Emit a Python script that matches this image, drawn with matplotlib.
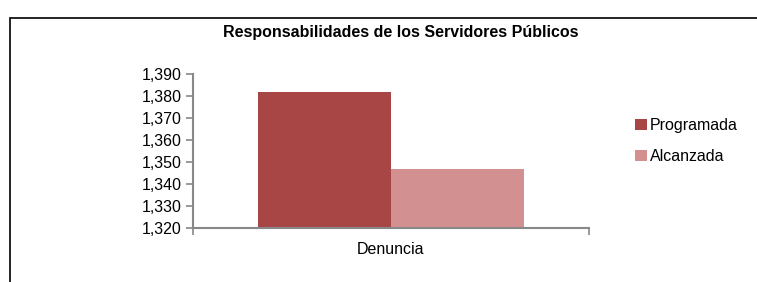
import matplotlib
matplotlib.use("Agg")
import matplotlib.pyplot as plt
from matplotlib.patches import Rectangle
from matplotlib.ticker import FuncFormatter, FixedLocator

categories = ["Denuncia"]
series_names = ["Programada", "Alcanzada"]
programada = [1382]
alcanzada = [1347]
colors = ["#A84646", "#D39090"]

plt.rcParams['font.family'] = ['Liberation Sans', 'DejaVu Sans']

W, H = 757, 282
fig = plt.figure(figsize=(W/100, H/100), dpi=100)

# outer frame
fig.patches.append(Rectangle((10/W, 0 - 0.1), 1.0, (H-18)/H + 0.1, transform=fig.transFigure,
                             fill=False, edgecolor="black", linewidth=1.2))

ax = fig.add_axes([193/W, 1 - 228/H, (589-193)/W, (228-74)/H])
bw = 0.335
x = range(len(categories))
ax.bar([i - bw/2 for i in x], programada, width=bw, color=colors[0], label=series_names[0])
ax.bar([i + bw/2 for i in x], alcanzada, width=bw, color=colors[1], label=series_names[1])

ax.set_ylim(1320, 1390)
ax.set_xlim(-0.5, 0.5)
ax.yaxis.set_major_locator(FixedLocator(range(1320, 1391, 10)))
ax.yaxis.set_major_formatter(FuncFormatter(lambda v, p: f"{int(v):,}"))
ax.xaxis.set_major_locator(FixedLocator([-0.5, 0.5]))
ax.set_xticklabels(["", ""])
ax.text(0, -0.14, categories[0], transform=ax.get_xaxis_transform(), ha="center", va="center", fontsize=11.5)

for s in ["top", "right"]:
    ax.spines[s].set_visible(False)
for s in ["left", "bottom"]:
    ax.spines[s].set_color("#888888")
    ax.spines[s].set_linewidth(1.5)
ax.tick_params(axis="y", colors="#888888", labelcolor="black", labelsize=11.5, length=5, width=1.2, pad=3)
ax.tick_params(axis="x", colors="#888888", length=5, width=1.2)

fig.text(401/W, 1 - 33/H, "Responsabilidades de los Servidores Públicos", ha="center", va="center",
         fontsize=11.5, fontweight="bold")

leg = fig.legend(loc="center left", bbox_to_anchor=(621/W, 1 - 141/H), frameon=False,
                 fontsize=11.5, handlelength=0.75, handleheight=0.75, handletextpad=0.15, labelspacing=1.0)

fig.savefig("out.png", dpi=100)
